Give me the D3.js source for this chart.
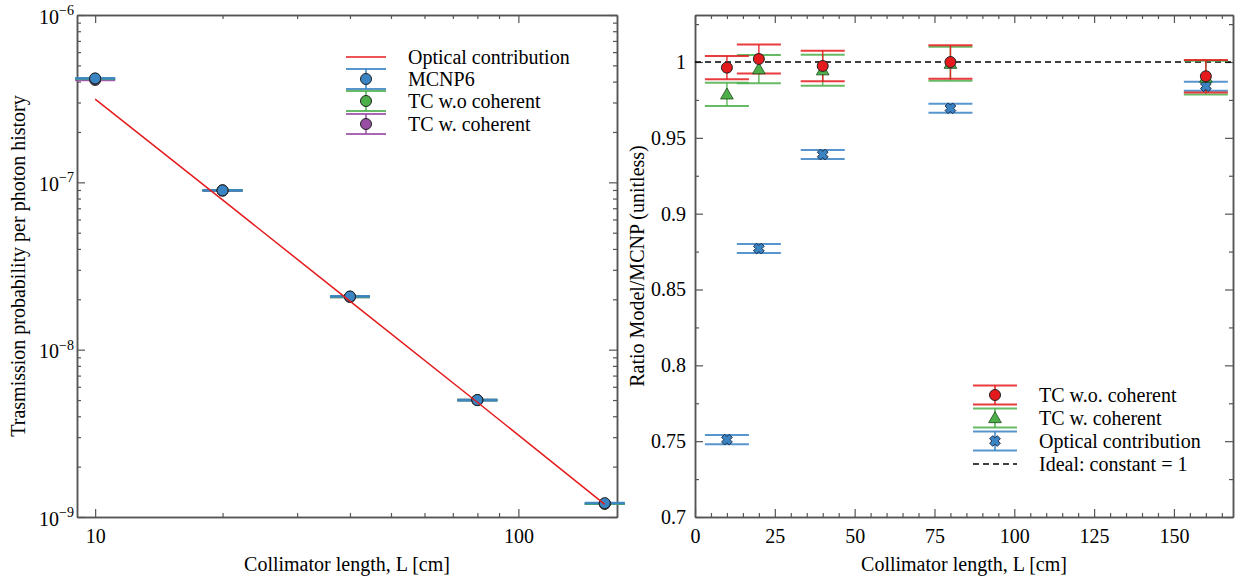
<!DOCTYPE html>
<html>
<head>
<meta charset="utf-8">
<script src="https://cdn.jsdelivr.net/npm/d3@7"></script>
<style>
  body { margin: 0; background: #fff; }
  text { font-family: "Liberation Serif", "Times New Roman", serif; fill: #000; }
</style>
</head>
<body>
<script>
// collimator lengths (cm)
var lengths = [10, 20, 40, 80, 160];

// left panel: transmission probability per photon history
var mcnp     = [4.18e-7, 8.95e-8, 2.08e-8, 5.00e-9, 1.21e-9];
var mcnpErr  = [2e-9, 4e-10, 1e-10, 2.5e-11, 6e-12];
var tcWoAbs  = [4.16e-7, 8.97e-8, 2.07e-8, 5.00e-9, 1.20e-9];
var tcWAbs   = [4.09e-7, 8.91e-8, 2.07e-8, 4.99e-9, 1.20e-9];
var optical  = [3.14e-7, 7.85e-8, 1.95e-8, 4.85e-9, 1.19e-9];

// right panel: ratio model / MCNP
var ratioWo     = [0.9963, 1.0020, 0.9974, 1.0000, 0.9906];
var ratioWoErr  = [0.0077, 0.0095, 0.0101, 0.0110, 0.0107];
var ratioW      = [0.9787, 0.9953, 0.9946, 0.9989, 0.9897];
var ratioWErr   = [0.0077, 0.0093, 0.0102, 0.0112, 0.0112];
var ratioOpt    = [0.751, 0.877, 0.939, 0.9695, 0.984];
var ratioOptErr = [0.003, 0.003, 0.003, 0.003, 0.003];

var leftTicksY = [1e-9, 1e-8, 1e-7, 1e-6];
var leftExp = ["\u22129", "\u22128", "\u22127", "\u22126"];
var leftTicksX = [10, 100];
var rightTicksY = [0.7, 0.75, 0.8, 0.85, 0.9, 0.95, 1];
var rightTicksX = [0, 25, 50, 75, 100, 125, 150];

var red = "#e41a1c", blue = "#3a84c4", green = "#4daf4a", purple = "#984ea3";
var axisColor = "#555";

var svg = d3.select("body").append("svg")
    .attr("width", 1239).attr("height", 579);

var plotTop = 15, plotBottom = 517;

// scales
var xL = d3.scaleLog().domain([9.06, 171]).range([77, 617]);
var yL = d3.scaleLog().domain([1e-9, 1e-6]).range([plotBottom, plotTop]);
var xR = d3.scaleLinear().domain([0, 168.5]).range([695, 1233]);
var yR = d3.scaleLinear().domain([0.7, 1.031]).range([plotBottom, plotTop]);

function styleAxis(g) {
    g.selectAll("path.domain").attr("stroke", axisColor).attr("stroke-width", 1.5);
    g.selectAll(".tick line").attr("stroke", axisColor).attr("stroke-width", 1.2);
    g.selectAll(".tick text").style("font-size", "20px")
        .style("font-family", "'Liberation Serif', serif").attr("fill", "#000");
}

function frame(x, y, xMajor, xMinor, yMajor, yMinor, xFmt, yFmt, yPad) {
    var x0 = x.range()[0], x1 = x.range()[1];
    // bottom
    var gb = svg.append("g").attr("transform", "translate(0," + plotBottom + ")")
        .call(d3.axisBottom(x).tickValues(xMajor).tickSize(-8).tickSizeOuter(0)
            .tickPadding(12).tickFormat(xFmt));
    styleAxis(gb);
    var gbm = svg.append("g").attr("transform", "translate(0," + plotBottom + ")")
        .call(d3.axisBottom(x).tickValues(xMinor).tickSize(-4).tickSizeOuter(0).tickFormat(""));
    styleAxis(gbm);
    // top
    var gt = svg.append("g").attr("transform", "translate(0," + plotTop + ")")
        .call(d3.axisTop(x).tickValues(xMajor).tickSize(-8).tickSizeOuter(0).tickFormat(""));
    styleAxis(gt);
    var gtm = svg.append("g").attr("transform", "translate(0," + plotTop + ")")
        .call(d3.axisTop(x).tickValues(xMinor).tickSize(-4).tickSizeOuter(0).tickFormat(""));
    styleAxis(gtm);
    // left
    var gl = svg.append("g").attr("transform", "translate(" + x0 + ",0)")
        .call(d3.axisLeft(y).tickValues(yMajor).tickSize(-8).tickSizeOuter(0)
            .tickPadding(yPad).tickFormat(yFmt));
    styleAxis(gl);
    var glm = svg.append("g").attr("transform", "translate(" + x0 + ",0)")
        .call(d3.axisLeft(y).tickValues(yMinor).tickSize(-4).tickSizeOuter(0).tickFormat(""));
    styleAxis(glm);
    // right
    var gr = svg.append("g").attr("transform", "translate(" + x1 + ",0)")
        .call(d3.axisRight(y).tickValues(yMajor).tickSize(-8).tickSizeOuter(0).tickFormat(""));
    styleAxis(gr);
    var grm = svg.append("g").attr("transform", "translate(" + x1 + ",0)")
        .call(d3.axisRight(y).tickValues(yMinor).tickSize(-4).tickSizeOuter(0).tickFormat(""));
    styleAxis(grm);
    return gl;
}

// minor tick values
var leftMinorX = [];
[10, 100].forEach(function(d) { for (var k = 2; k < 10; k++) { var v = d * k; if (v > 9.06 && v < 171) leftMinorX.push(v); } });
var leftMinorY = [];
leftTicksY.forEach(function(d) { for (var k = 2; k < 10; k++) { if (d * k < 1e-6) leftMinorY.push(d * k); } });
var rightMinorX = d3.range(5, 168, 5).filter(function(v) { return v % 25 != 0; });
var rightMinorY = [0.725, 0.775, 0.825, 0.875, 0.925, 0.975, 1.025];

// ---------- left panel ----------
var glY = frame(xL, yL, leftTicksX, leftMinorX, leftTicksY, leftMinorY, d3.format("d"), d3.format(".0e"), 3);
glY.selectAll(".tick text").each(function(d, i) {
    var t = d3.select(this).text("").attr("dy", "0.4em");
    t.append("tspan").style("font-size", "20px").text("10");
    t.append("tspan").attr("dy", "-0.6em").style("font-size", "14px").text(leftExp[i]);
});

function errCaps(g, xs, ys, errs, x, y, color, capHalf, width) {
    xs.forEach(function(d, i) {
        var cx = x(d);
        var yTop = y(ys[i] + errs[i]), yBot = y(ys[i] - errs[i]);
        g.append("line").attr("x1", cx).attr("x2", cx).attr("y1", yTop).attr("y2", yBot)
            .attr("stroke", color).attr("stroke-width", 1.5).attr("stroke-opacity", 0.85);
        [yTop, yBot].forEach(function(yy) {
            g.append("line").attr("x1", cx - capHalf).attr("x2", cx + capHalf)
                .attr("y1", yy).attr("y2", yy)
                .attr("stroke", color).attr("stroke-width", width).attr("stroke-opacity", 0.85);
        });
    });
}

var leftG = svg.append("g");
errCaps(leftG, lengths, tcWAbs, mcnpErr, xL, yL, purple, 20, 2);
errCaps(leftG, lengths, tcWoAbs, mcnpErr, xL, yL, green, 20, 2);
errCaps(leftG, lengths, mcnp, mcnpErr, xL, yL, blue, 20, 2);

function circles(g, xs, ys, x, y, fill, r) {
    g.selectAll(null).data(xs).enter().append("circle")
        .attr("cx", function(d) { return x(d); })
        .attr("cy", function(d, i) { return y(ys[i]); })
        .attr("r", r).attr("fill", fill).attr("stroke", "#222").attr("stroke-width", 1);
}
circles(leftG, lengths, tcWAbs, xL, yL, purple, 5.5);
circles(leftG, lengths, tcWoAbs, xL, yL, green, 5.5);
circles(leftG, lengths, mcnp, xL, yL, blue, 5.5);

var lineL = d3.line().x(function(d) { return xL(d); })
    .y(function(d, i) { return yL(optical[i]); });
leftG.append("path").attr("d", lineL(lengths)).attr("fill", "none")
    .attr("stroke", red).attr("stroke-width", 1.5);

// left legend
var legL = svg.append("g");
var legLx = 366, legLt = 408;
legL.append("line").attr("x1", legLx - 20).attr("x2", legLx + 20).attr("y1", 57).attr("y2", 57)
    .attr("stroke", red).attr("stroke-width", 1.5);
legL.append("text").attr("x", legLt).attr("y", 64).style("font-size", "20px").text("Optical contribution");
[[79, blue, "MCNP6"], [101, green, "TC w.o coherent"], [124, purple, "TC w. coherent"]].forEach(function(e) {
    var yy = e[0];
    legL.append("line").attr("x1", legLx).attr("x2", legLx).attr("y1", yy - 10).attr("y2", yy + 10)
        .attr("stroke", e[1]).attr("stroke-width", 1.5);
    [yy - 10, yy + 10].forEach(function(c) {
        legL.append("line").attr("x1", legLx - 20).attr("x2", legLx + 20).attr("y1", c).attr("y2", c)
            .attr("stroke", e[1]).attr("stroke-width", 2).attr("stroke-opacity", 0.85);
    });
    legL.append("circle").attr("cx", legLx).attr("cy", yy).attr("r", 5.5)
        .attr("fill", e[1]).attr("stroke", "#222").attr("stroke-width", 1);
    legL.append("text").attr("x", legLt).attr("y", yy + 7).style("font-size", "20px").text(e[2]);
});

// ---------- right panel ----------
frame(xR, yR, rightTicksX, rightMinorX, rightTicksY, rightMinorY, d3.format("d"),
    function(d) { return String(+d.toFixed(2)); }, 9);

var rightG = svg.append("g");
rightG.append("line").attr("x1", xR(0)).attr("x2", xR(168.5)).attr("y1", yR(1)).attr("y2", yR(1))
    .attr("stroke", "#000").attr("stroke-width", 1.3).attr("stroke-dasharray", "6,4");

errCaps(rightG, lengths, ratioOpt, ratioOptErr, xR, yR, blue, 22, 2);
errCaps(rightG, lengths, ratioW, ratioWErr, xR, yR, green, 22, 2);
errCaps(rightG, lengths, ratioWo, ratioWoErr, xR, yR, red, 22, 2);

function xMarker(g, cx, cy, fill) {
    var r = 5.4, w = 2.2;
    var pts = [[w, r], [w, w], [r, w], [r, -w], [w, -w], [w, -r], [-w, -r], [-w, -w], [-r, -w], [-r, w], [-w, w], [-w, r]];
    g.append("path").attr("d", "M" + pts.join("L") + "Z")
        .attr("transform", "translate(" + cx + "," + cy + ") rotate(45)")
        .attr("fill", fill).attr("stroke", "#1a2a44").attr("stroke-width", 0.9);
}
function triMarker(g, cx, cy, fill) {
    g.append("path").attr("d", d3.symbol().type(d3.symbolTriangle).size(70)())
        .attr("transform", "translate(" + cx + "," + (cy + 1) + ")")
        .attr("fill", fill).attr("stroke", "#1d4a1b").attr("stroke-width", 0.8);
}

lengths.forEach(function(d, i) { xMarker(rightG, xR(d), yR(ratioOpt[i]), blue); });
lengths.forEach(function(d, i) { triMarker(rightG, xR(d), yR(ratioW[i]), green); });
circles(rightG, lengths, ratioWo, xR, yR, red, 5.5);

// right legend
var legR = svg.append("g");
var legRx = 995, legRt = 1039;
var legItems = [[395, red, "TC w.o. coherent", "c"], [418, green, "TC w. coherent", "t"], [441, blue, "Optical contribution", "x"]];
legItems.forEach(function(e) {
    var yy = e[0];
    legR.append("line").attr("x1", legRx).attr("x2", legRx).attr("y1", yy - 9.5).attr("y2", yy + 9.5)
        .attr("stroke", e[1]).attr("stroke-width", 1.5);
    [yy - 9.5, yy + 9.5].forEach(function(c) {
        legR.append("line").attr("x1", legRx - 22).attr("x2", legRx + 22).attr("y1", c).attr("y2", c)
            .attr("stroke", e[1]).attr("stroke-width", 2).attr("stroke-opacity", 0.85);
    });
    if (e[3] == "c") legR.append("circle").attr("cx", legRx).attr("cy", yy).attr("r", 5.5)
        .attr("fill", e[1]).attr("stroke", "#222").attr("stroke-width", 1);
    if (e[3] == "t") triMarker(legR, legRx, yy, e[1]);
    if (e[3] == "x") xMarker(legR, legRx, yy, e[1]);
    legR.append("text").attr("x", legRt).attr("y", yy + 7).style("font-size", "20px").text(e[2]);
});
legR.append("line").attr("x1", legRx - 22).attr("x2", legRx + 22).attr("y1", 464).attr("y2", 464)
    .attr("stroke", "#000").attr("stroke-width", 1.3).attr("stroke-dasharray", "6,4");
legR.append("text").attr("x", legRt).attr("y", 471).style("font-size", "20px").text("Ideal: constant = 1");

// axis labels
svg.append("text").attr("x", 347).attr("y", 571).attr("text-anchor", "middle")
    .style("font-size", "20px").text("Collimator length, L [cm]");
svg.append("text").attr("x", 964).attr("y", 571).attr("text-anchor", "middle")
    .style("font-size", "20px").text("Collimator length, L [cm]");
svg.append("text").attr("transform", "translate(25,266) rotate(-90)").attr("text-anchor", "middle")
    .style("font-size", "20px").text("Trasmission probability per photon history");
svg.append("text").attr("transform", "translate(644,266) rotate(-90)").attr("text-anchor", "middle")
    .style("font-size", "20px").text("Ratio Model/MCNP (unitless)");
</script>
</body>
</html>
